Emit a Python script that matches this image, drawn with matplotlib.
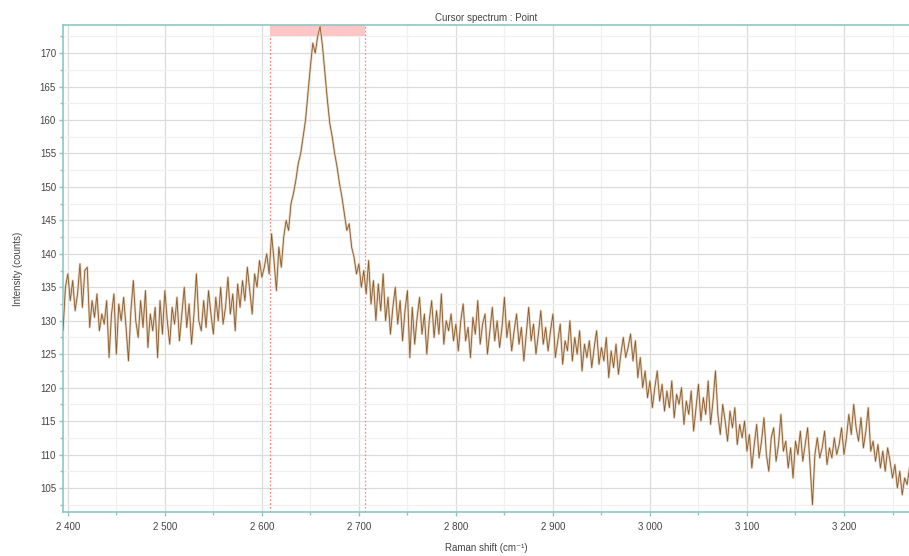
import numpy as np
import matplotlib
matplotlib.use("Agg")
import matplotlib.pyplot as plt
from matplotlib.ticker import MultipleLocator, FuncFormatter

shift_start = 2395.0
shift_step = 2.5

int_2395 = [128.5, 135, 137, 133, 136, 131.5, 134, 138.5, 132, 137.5,
            138, 129, 133, 130.5, 134, 128.5, 131, 129.5, 133, 124.5,
            131, 134, 125, 132.5, 130, 133.5, 129, 124, 131.5, 136,
            130, 127.5, 133, 129, 134.5, 126, 131, 128.5, 132, 124.5]
int_2495 = [133, 128, 134.5, 130, 126.5, 132, 129.5, 133.5, 127, 131,
            135, 129, 132.5, 126.5, 131, 137, 130, 128.5, 133, 129,
            134.5, 131, 128, 133.5, 130, 135, 129.5, 132, 136.5, 131,
            134, 128.5, 135.5, 132, 136, 133, 138, 134.5, 131, 137]
int_2595 = [135, 139, 136.5, 138, 140, 137, 143, 139, 134.5, 141,
            138, 142.5, 145, 143.5, 147.5, 149, 151, 153.5, 155, 157.5,
            160, 164, 168, 171.5, 170, 172.5, 174, 171, 167, 163,
            159.5, 157.5, 155, 153, 150.5, 148.5, 146, 143.5, 144.5, 141]
int_2695 = [139.5, 137, 138.5, 135, 137.5, 134, 139, 132.5, 136, 130,
            135.5, 131.5, 137, 130, 133.5, 128, 132, 135, 129.5, 133,
            127, 131.5, 134.5, 124.5, 132, 126.5, 130.5, 133.5, 128, 131,
            125, 130, 133, 127.5, 131.5, 128, 134, 126.5, 130, 128.5]
int_2795 = [131, 127, 129.5, 125.5, 130, 132.5, 127, 129, 124.5, 130.5,
            128, 133, 126.5, 129.5, 131, 125, 128.5, 132, 127, 130,
            126, 129, 133.5, 127.5, 130, 125.5, 128.5, 131, 126.5, 129,
            124, 128, 132, 127, 129.5, 125, 128, 131.5, 126.5, 129]
int_2895 = [125.5, 128.5, 131, 124.5, 127, 129.5, 123.5, 127, 125.5, 130,
            124, 127.5, 125, 128.5, 122.5, 126.5, 124.5, 127, 123, 126,
            128.5, 123.5, 126, 124, 127.5, 121.5, 125.5, 123, 126.5, 122,
            125, 127.5, 124.5, 126, 128, 124, 127, 121.5, 124.5, 120]
int_2995 = [122.5, 118.5, 121, 117, 120, 122.5, 118, 120.5, 116.5, 119.5,
            117, 121, 115.5, 119, 117.5, 120, 114.5, 118, 116, 119.5,
            113.5, 117, 120.5, 115, 118.5, 116, 121, 114.5, 118, 122.5,
            116, 113, 117.5, 115, 112, 116.5, 114, 117, 111.5, 114.5]
int_3095 = [112.5, 115, 110.5, 113, 108, 111.5, 114.5, 109.5, 112, 115.5,
            110, 107.5, 112.5, 114, 109, 111.5, 116, 110.5, 112, 108,
            111, 106.5, 112, 110, 113.5, 109, 111.5, 114, 108.5, 102.5,
            110, 112.5, 109.5, 111, 113.5, 108.5, 111, 109.5, 112.5, 110]
int_3195 = [111.5, 114, 110, 112.5, 116, 113, 117.5, 114, 112, 115.5,
            111, 113.5, 117, 110.5, 112, 109, 111.5, 108, 110.5, 107.5,
            111, 109, 106.5, 108.5, 105, 107.5, 104, 106.5, 105.5, 108]

intensity = np.array(int_2395 + int_2495 + int_2595 + int_2695 + int_2795
                     + int_2895 + int_2995 + int_3095 + int_3195)
raman_shift = shift_start + shift_step * np.arange(len(intensity))

# Cursor window
cursor_lo = 2608
cursor_hi = 2706

teal = '#8cc6c6'
fonts = ['Liberation Sans', 'DejaVu Sans']

fig = plt.figure(figsize=(9.09, 5.56), dpi=100)
ax = fig.add_axes([0.0693, 0.079, 0.9307, 0.876])

# soft tan halo + darker brown core, like the anti-aliased original trace
ax.plot(raman_shift, intensity, color='#e2d0bc', lw=1.7, zorder=3)
ax.plot(raman_shift, intensity, color='#8a5a2a', lw=0.6, zorder=4)

ax.set_xlim(2395, 3267)
ax.set_ylim(101.4, 174.2)

# cursor markers
ax.axvline(cursor_lo, color='#ff8c8c', lw=0.9, ls=(0, (1.5, 1.5)), zorder=2)
ax.axvline(cursor_hi, color='#ff8c8c', lw=0.9, ls=(0, (1.5, 1.5)), zorder=2)
ax.axvspan(cursor_lo, cursor_hi, ymin=(172.6 - 101.4) / (174.2 - 101.4), ymax=1,
           color='#ffc6c6', lw=0, zorder=2)

ax.xaxis.set_major_locator(MultipleLocator(100))
ax.xaxis.set_minor_locator(MultipleLocator(50))
ax.yaxis.set_major_locator(MultipleLocator(5))
ax.yaxis.set_minor_locator(MultipleLocator(2.5))
ax.xaxis.set_major_formatter(FuncFormatter(lambda v, p: f"{int(v):,}".replace(",", " ")))

ax.grid(which='major', color='#dcdcdc', lw=0.9, zorder=0)
ax.grid(which='minor', color='#f0f0f0', lw=0.9, zorder=0)
ax.set_axisbelow(True)

for side in ['left', 'bottom', 'top']:
    ax.spines[side].set_color(teal)
    ax.spines[side].set_linewidth(1.2)
ax.spines['right'].set_visible(False)

ax.tick_params(which='both', colors=teal, labelcolor='#444444', direction='out')
ax.tick_params(which='major', length=3, width=1, labelsize=7)
ax.tick_params(which='minor', length=2, width=1)
ax.tick_params(axis='x', pad=4)
ax.tick_params(axis='y', pad=2)
for lbl in ax.get_xticklabels() + ax.get_yticklabels():
    lbl.set_fontfamily(fonts)

ax.set_xlabel('Raman shift (cm\u207b\u00b9)', fontsize=7, color='#444444',
              family=fonts, labelpad=8)
ax.set_ylabel('Intensity (counts)', fontsize=7, color='#444444',
              family=fonts, labelpad=12)
ax.set_title('Cursor spectrum : Point', fontsize=7, color='#444444',
             family=fonts, pad=3)

fig.savefig('out.png', dpi=100)
